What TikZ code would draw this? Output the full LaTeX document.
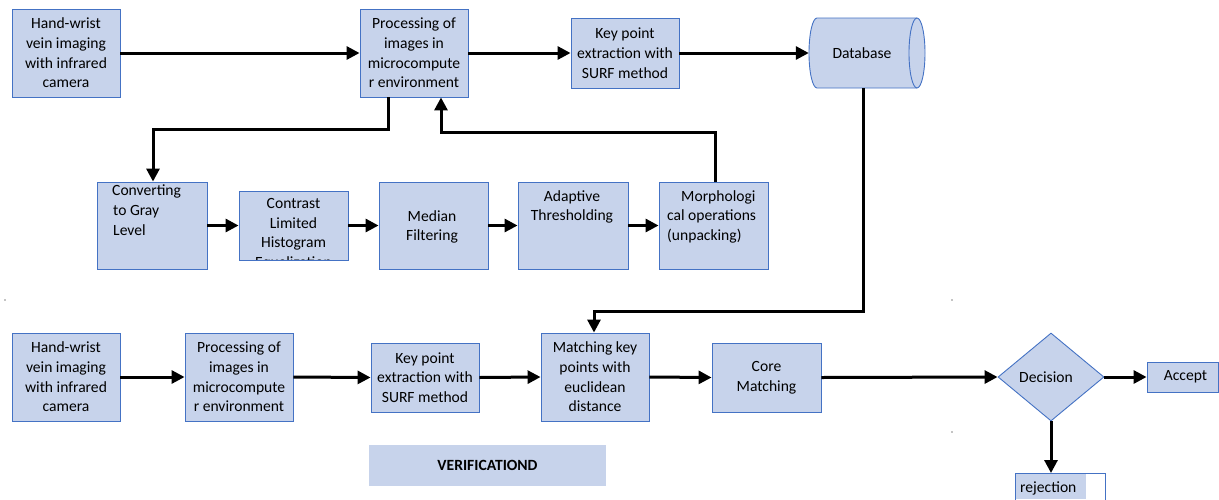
\documentclass[tikz,border=0pt]{standalone}
\usepackage{fontspec}
\setmainfont{Carlito}
\usetikzlibrary{arrows.meta,shapes.geometric}
\definecolor{boxfill}{RGB}{199,211,235}
\definecolor{bord}{RGB}{68,114,196}
\newcommand{\fs}{\fontsize{15.6}{19.7}\selectfont}
\begin{document}
\begin{tikzpicture}[x=1pt,y=1pt,
  box/.style={draw=bord, fill=boxfill, line width=0.9pt, inner sep=0pt, align=center, font=\fs},
  txt/.style={inner sep=0pt, font=\fs},
  arr/.style={line width=3pt, -{Triangle[length=13pt,width=13pt]}},
  ln/.style={line width=3pt}]
\useasboundingbox (0,0) rectangle (1219,-499);
% top row
\node[box, minimum width=108pt, minimum height=88pt] (hw1) at (66,-53) {Hand-wrist\\vein imaging\\with infrared\\camera};
\node[box, minimum width=108pt, minimum height=88pt] (proc1) at (414,-53) {Processing of\\images in\\microcompute\\r environment};
\node[box, minimum width=108pt, minimum height=70pt] (key1) at (625,-53) {Key point\\extraction with\\SURF method};
\node[minimum width=116pt, minimum height=70pt, inner sep=0pt] (db) at (867,-53) {};
\fill[boxfill] (817,-18) -- (917,-18) arc[start angle=90,end angle=-90,x radius=8,y radius=35] -- (817,-88) arc[start angle=270,end angle=90,x radius=8,y radius=35] -- cycle;
\draw[bord, line width=0.9pt] (817,-18) -- (917,-18) arc[start angle=90,end angle=-90,x radius=8,y radius=35] -- (817,-88) arc[start angle=270,end angle=90,x radius=8,y radius=35];
\draw[bord, line width=0.9pt] (917,-18) arc[start angle=90,end angle=270,x radius=8,y radius=35];
\node[txt] (dbt) at (862,-53) {Database};
% middle row
\node[box, minimum width=110pt, minimum height=87pt] (conv) at (152,-225.5) {};
\node[txt, align=left, anchor=north west] (convt) at (112,-185) {Converting\\\hspace{1pt}to Gray\\\hspace{1pt}Level};
\node[box, minimum width=109pt, minimum height=69pt] (clahe) at (293.5,-225.5) {};
\begin{scope}
\clip (239.5,-191.5) rectangle (347.5,-259.5);
\node[txt, align=center, anchor=north] (clahet) at (293.5,-198) {Contrast\\Limited\\Histogram\\Equalization};
\end{scope}
\node[box, minimum width=109pt, minimum height=87pt] (med) at (433.5,-225.5) {};
\node[txt, align=center] (medt) at (432,-227) {Median\\Filtering};
\node[box, minimum width=110pt, minimum height=87pt] (adapt) at (573,-225.5) {};
\node[txt, align=center, anchor=north] (adaptt) at (572,-190) {Adaptive\\Thresholding};
\node[box, minimum width=109pt, minimum height=87pt] (morph) at (713.5,-225.5) {};
\node[txt, align=left, anchor=north west] (morpht) at (667,-190) {\hspace{14pt}Morphologi\\cal operations\\(unpacking)};
% bottom row
\node[box, minimum width=108pt, minimum height=88pt] (hw2) at (66,-377) {Hand-wrist\\vein imaging\\with infrared\\camera};
\node[box, minimum width=108pt, minimum height=88pt] (proc2) at (239,-377) {Processing of\\images in\\microcompute\\r environment};
\node[box, minimum width=108pt, minimum height=69pt] (key2) at (425,-377.5) {Key point\\extraction with\\SURF method};
\node[box, minimum width=108pt, minimum height=88pt] (match) at (595,-377) {Matching key\\points with\\euclidean\\distance};
\node[box, minimum width=109pt, minimum height=69pt] (core) at (766.5,-377.5) {Core\\Matching};
\node[draw=bord, fill=boxfill, line width=0.9pt, diamond, inner sep=0pt, minimum width=106pt, minimum height=88pt, font=\fs] (dec) at (1051,-377) {};
\node[txt] (dect) at (1046,-377) {Decision};
\node[box, minimum width=71pt, minimum height=30pt] (acc) at (1182.5,-377) {\hspace{6pt}Accept};
\draw[bord, line width=0.9pt, fill=white] (1015,-510) rectangle (1105,-473);
\fill[boxfill] (1015.5,-473.5) rectangle (1086,-499);
\node[txt, anchor=west] (rej) at (1020,-488) {rejection};
\coordinate (rejtop) at (1051,-473);
\node[fill=boxfill, minimum width=237pt, minimum height=41pt, inner sep=0pt, font=\fs\bfseries] (verif) at (487.5,-465.5) {VERIFICATIOND};
% connectors top
\draw[arr] (hw1.east) -- (proc1.west);
\draw[arr] (proc1.east) -- (key1.west);
\draw[arr] (key1.east) -- (db.west);
\draw[arr] (proc1.south -| 388,0) -- (388,-129) -- (153,-129) -- (conv.north -| 153,0);
\draw[arr] (morph.north -| 715,0) -- (715,-132) -- (441,-132) -- (proc1.south -| 441,0);
% middle row
\draw[arr] (conv.east) -- (clahe.west);
\draw[arr] (clahe.east) -- (med.west);
\draw[arr] (med.east) -- (adapt.west);
\draw[arr] (adapt.east) -- (morph.west);
% db to match
\draw[arr] (db.south -| 863,0) -- (863,-311) -- (594,-311) -- (match.north -| 594,0);
% bottom row
\draw[arr] (hw2.east) -- (proc2.west);
\draw[arr] (proc2.east) -- (key2.west);
\draw[arr] (key2.east) -- (match.west);
\draw[arr] (match.east) -- (core.west);
\draw[arr] (core.east) -- (dec.west);
\draw[arr] (dec.east) -- (acc.west);
\draw[arr] (dec.south) -- (rejtop);
% stray dots
\fill (5,-300) circle (0.6pt);
\fill (952,-300) circle (0.6pt);
\fill (952,-432) circle (0.6pt);
\end{tikzpicture}
\end{document}
